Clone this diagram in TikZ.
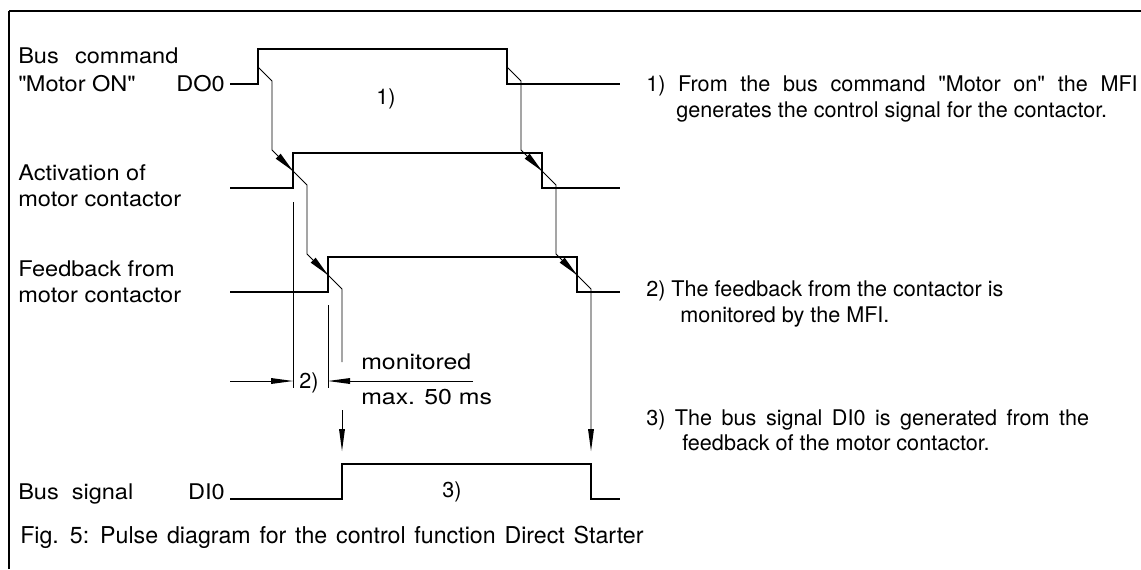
\documentclass[tikz,border=0pt]{standalone}
\usepackage{fontspec}
\setmainfont{TeX Gyre Heros}
\newfontfamily\widefont[FakeStretch=1.09]{TeX Gyre Heros}
\newfontfamily\widerfont[FakeStretch=1.15]{TeX Gyre Heros}

\begin{document}
\begin{tikzpicture}[x=0.75pt,y=0.75pt,yscale=-1,xscale=1,
	signal/.style={line width=1.6pt},
	cause/.style={line width=0.7pt},
	arrhead/.style={fill=black,line width=0.3pt},
	txt/.style={inner sep=0pt,font=\fontsize{16.2}{19}\selectfont},
	lbl/.style={inner sep=0pt,font=\widefont\fontsize{16.2}{19}\selectfont},
	dimtxt/.style={inner sep=0pt,font=\widerfont\fontsize{16.2}{19}\selectfont},
	captxt/.style={inner sep=0pt,font={\fontsize{17.4}{21}\selectfont\spaceskip=0.38em\relax}}]
				\useasboundingbox (0,0) rectangle (1141,569);

				%Frame
				\draw [line width=1.1pt]  (9,569) -- (9,11) ;
				\draw [line width=1.5pt]  (9,11) -- (1141,11) ;

				%Signal DO0
				\draw [signal]  (230,84) -- (258,84) -- (258,49) -- (507,49) -- (507,84) -- (620,84) ;
				%Signal contactor activation
				\draw [signal]  (230,188) -- (293,188) -- (293,153) -- (542,153) -- (542,188) -- (620,188) ;
				%Signal contactor feedback
				\draw [signal]  (230,292) -- (328,292) -- (328,257) -- (577,257) -- (577,292) -- (620,292) ;
				%Signal DI0
				\draw [signal]  (230,499) -- (342,499) -- (342,464) -- (591,464) -- (591,499) -- (620,499) ;

				%Switch-on chain
				\draw [cause]  (258,67) -- (272,81) -- (272,150) -- (307,185) -- (307,254) -- (342,289) -- (342,362) ;
				\fill [arrhead, shift={(293,171)}, rotate=225]  (0,0) -- (21,-3.5) -- (21,3.5) -- cycle ;
				\fill [arrhead, shift={(328,275)}, rotate=225]  (0,0) -- (21,-3.5) -- (21,3.5) -- cycle ;
				\draw [cause]  (342,410) -- (342,440) ;
				\fill [arrhead, shift={(342,451)}, rotate=270]  (0,0) -- (22,-3) -- (22,3) -- cycle ;

				%Switch-off chain
				\draw [cause]  (507,67) -- (521,81) -- (521,150) -- (556,185) -- (556,254) -- (591,289) -- (591,440) ;
				\fill [arrhead, shift={(542,171)}, rotate=225]  (0,0) -- (21,-3.5) -- (21,3.5) -- cycle ;
				\fill [arrhead, shift={(577,275)}, rotate=225]  (0,0) -- (21,-3.5) -- (21,3.5) -- cycle ;
				\fill [arrhead, shift={(591,451)}, rotate=270]  (0,0) -- (22,-3) -- (22,3) -- cycle ;

				%Monitoring window
				\draw [cause]  (293,202) -- (293,388) ;
				\draw [cause]  (328,305) -- (328,388) ;
				\draw [cause]  (230,381) -- (280,381) ;
				\fill [arrhead, shift={(293,381)}, rotate=180]  (0,0) -- (22,-3) -- (22,3) -- cycle ;
				\draw [cause]  (473,381) -- (340,381) ;
				\fill [arrhead, shift={(328,381)}, rotate=0]  (0,0) -- (22,-3) -- (22,3) -- cycle ;

				% Text Node
				\draw (18,63) node [anchor=base west][lbl] (lblcmd) {Bus\hspace{0.75em}command};
				% Text Node
				\draw (18,91) node [anchor=base west][lbl] (lblon) {\textquotedbl Motor ON\textquotedbl};
				% Text Node
				\draw (225,91) node [anchor=base east][lbl] (lbldo) {DO0};
				% Text Node
				\draw (18,180) node [anchor=base west][lbl] (lblact) {Activation of};
				% Text Node
				\draw (18,206) node [anchor=base west][lbl] (lblactb) {motor contactor};
				% Text Node
				\draw (18,276) node [anchor=base west][lbl] (lblfb) {Feedback from};
				% Text Node
				\draw (18,302) node [anchor=base west][lbl] (lblfbb) {motor contactor};
				% Text Node
				\draw (18,499) node [anchor=base west][lbl] (lblbus) {Bus\hspace{0.6em}signal};
				% Text Node
				\draw (225,499) node [anchor=base east][lbl] (lbldi) {DI0};

				% Text Node
				\draw (386,104) node [anchor=base][txt] (mark1) {1)};
				% Text Node
				\draw (309,388) node [anchor=base][txt] (mark2) {2)};
				% Text Node
				\draw (452,497) node [anchor=base][txt] (mark3) {3)};
				% Text Node
				\draw (361,369) node [anchor=base west][dimtxt] (mon) {monitored};
				% Text Node
				\draw (361,404) node [anchor=base west][dimtxt] (maxms) {max. 50 ms};

				% Text Node
				\draw (646,91) node [anchor=base west][txt, font={\fontsize{16.2}{19}\selectfont\spaceskip=0.59em\relax}] (note1) {1) From the bus command \textquotedbl Motor on\textquotedbl{} the MFI};
				% Text Node
				\draw (676,117) node [anchor=base west][txt] (note1b) {generates the control signal for the contactor.};
				% Text Node
				\draw (646,296) node [anchor=base west][txt] (note2) {2) The feedback from the contactor is};
				% Text Node
				\draw (680,322) node [anchor=base west][txt] (note2b) {monitored by the MFI.};
				% Text Node
				\draw (646,425) node [anchor=base west][txt, font={\fontsize{16.2}{19}\selectfont\spaceskip=0.44em\relax}] (note3) {3) The bus signal DI0 is generated from the};
				% Text Node
				\draw (682,450) node [anchor=base west][txt] (note3b) {feedback of the motor contactor.};

				% Text Node
				\draw (20,543) node [anchor=base west][captxt] (caption) {Fig. 5: Pulse diagram for the control function Direct Starter};

\end{tikzpicture}
\end{document}
